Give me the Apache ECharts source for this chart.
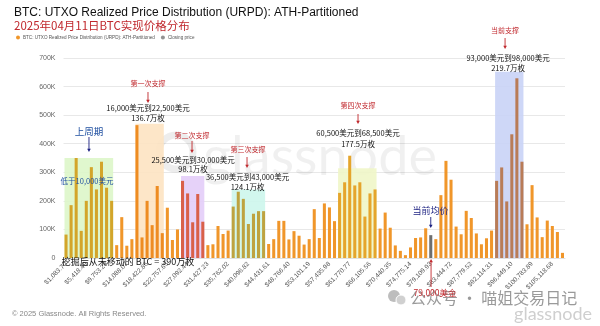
<!DOCTYPE html>
<html><head><meta charset="utf-8">
<script src="https://cdn.jsdelivr.net/npm/echarts@6/dist/echarts.min.js"></script>
<style>html,body{margin:0;padding:0;background:#fff}#c{width:600px;height:326px}</style>
</head><body><div id="c"></div>
<script>
// URPD supply per price bin (BTC), bins 1..99 (bin width ≈ ATH/100)
const urpd = [
  82000,185000,350000,95000,200000,318000,240000,337000,246000,200000,
  45000,143000,43000,66000,465000,72000,200000,115000,252000,87000,
  176000,63000,100000,270000,226000,125000,224000,127000,45000,48000,
  112000,84000,96000,180000,232000,207000,119000,155000,164000,164000,
  49000,66000,130000,130000,65000,94000,78000,47000,66000,171000,
  70000,191000,177000,129000,228000,265000,358000,254000,265000,145000,
  226000,240000,103000,159000,106000,44000,25000,10000,37000,70000,
  72000,104000,80000,66000,220000,340000,274000,110000,83000,165000,
  140000,86000,48000,69000,96000,270000,317000,198000,433000,629000,
  337000,118000,255000,142000,73000,131000,112000,91000,18000
];
const binIndex = urpd.map((_, i) => String(i + 1));
const tickLabels = ['$1,083.70','$5,418.49','$9,753.28','$14,088.07','$18,422.86','$22,757.65','$27,092.44','$31,427.23','$35,762.02','$40,096.82','$44,431.61','$48,766.40','$53,101.19','$57,435.98','$61,770.77','$66,105.56','$70,440.35','$74,775.14','$79,109.93','$83,444.72','$87,779.52','$92,114.31','$96,449.10','$100,783.89','$105,118.68'];
const yTicks = [0,100000,200000,300000,400000,500000,600000,700000];
// highlighted ranges: [first bin, last bin, box top value]
const supportRanges = [[1,10,350000],[15,20,470000],[24,28,287000],[34,40,240000],[55,62,314000],[86,91,652000]];
const closingBin = 73;

const rangeBarColors = ['#D3A52A','#EE8C22','#D9604A','#BEA340','#E5A52C','#B97C57'];
const rangeBoxColors = ['#DDF6C9','#FDE3C2','#E3CDF8','#CDF6EC','#EFF6C8','#C9D3F6'];
const baseColor = '#F0962A', closeColor = '#6E6E6E';
function barColor(k){
  if (k === closingBin) return closeColor;
  for (let i = 0; i < supportRanges.length; i++) if (k >= supportRanges[i][0] && k <= supportRanges[i][1]) return rangeBarColors[i];
  return baseColor;
}
const seriesName = 'BTC: UTXO Realized Price Distribution (URPD): ATH-Partitioned';
const RED = '#C0282D', BLUE = '#1F4FA0', NAVY = '#1A1F80', BLACK = '#111';
const CJK = '"Noto Sans CJK SC", "Noto Sans", sans-serif';

const chart = echarts.init(document.getElementById('c'));
const option = {
  animation: false,
  backgroundColor: '#fff',
  title: {
    text: seriesName, subtext: '2025年04月11日BTC实现价格分布',
    left: 9, top: 2, itemGap: 1,
    textStyle: {fontSize: 12, fontWeight: 'normal', color: '#111', fontFamily: 'Liberation Sans, Arial, sans-serif'},
    subtextStyle: {fontSize: 11.5, color: RED, fontFamily: CJK}
  },
  legend: {
    left: 11, top: 30, itemWidth: 4, itemHeight: 4, itemGap: 6,
    textStyle: {fontSize: 4.6, color: '#555', padding: [0,0,0,-2]},
    data: [{name: seriesName, icon: 'circle', itemStyle: {color: baseColor}},
           {name: 'Closing price', icon: 'circle', itemStyle: {color: '#777'}}]
  },
  grid: {left: 63.5, right: 35, top: 58, bottom: 68},
  xAxis: [{
    type: 'category', data: binIndex,
    axisLine: {show: true, lineStyle: {color: '#e0e0e0'}}, axisTick: {show: false},
    axisLabel: {interval: 3, rotate: 45, fontSize: 6.5, color: '#555', margin: 5,
      formatter: (v, i) => tickLabels[i / 4] || ''}
  }, {
    type: 'value', min: 0.5, max: urpd.length + 0.5, show: false
  }],
  yAxis: {
    type: 'value', min: yTicks[0], max: yTicks[yTicks.length - 1], interval: 100000,
    axisLine: {show: false}, axisTick: {show: false},
    axisLabel: {fontSize: 7, color: '#666', margin: 8, formatter: v => v === 0 ? '0' : (v / 1000) + 'K'},
    splitLine: {lineStyle: {color: '#e8e8e8'}}
  },
  series: [{
    name: seriesName, type: 'bar', barCategoryGap: '40%',
    data: urpd.map((v, i) => ({value: v, itemStyle: {color: barColor(i + 1)}})),
    z: 3
  }, {
    name: 'Closing price', type: 'scatter', data: [], itemStyle: {color: '#777'}
  }, {
    name: 'ranges', type: 'line', xAxisIndex: 1, data: [], silent: true,
    markArea: {
      silent: true,
      data: supportRanges.map((r, i) => [
        {coord: [r[0] - 0.3, r[2]], itemStyle: {color: rangeBoxColors[i], opacity: 0.9}},
        {coord: [r[1] + 0.3, 0]}
      ])
    }
  }]
};
chart.setOption(option);

// annotations in data coordinates: [bin position, value]
const notes = [
  {t: '上周期', p: [5.53, 444500], c: BLUE, s: 9.5},
  {t: '低于10,000美元', p: [5.14, 269500], c: BLUE, s: 7.5},
  {t: '第一次支撑', p: [17.18, 612500], c: RED, s: 7},
  {t: '16,000美元到22,500美元', p: [17.18, 525000], c: BLACK, s: 7.5},
  {t: '136.7万枚', p: [17.18, 490000], c: BLACK, s: 7.5},
  {t: '第二次支撑', p: [25.87, 430500], c: RED, s: 7},
  {t: '25,500美元到30,000美元', p: [26.07, 343000], c: BLACK, s: 7.5},
  {t: '98.1万枚', p: [26.07, 311500], c: BLACK, s: 7.5},
  {t: '第三次支撑', p: [36.93, 381500], c: RED, s: 7},
  {t: '36,500美元到43,000美元', p: [36.83, 283500], c: BLACK, s: 7.5},
  {t: '124.1万枚', p: [36.83, 249500], c: BLACK, s: 7.5},
  {t: '第四次支撑', p: [58.64, 535500], c: RED, s: 7},
  {t: '60,500美元到68,500美元', p: [58.64, 437500], c: BLACK, s: 7.5},
  {t: '177.5万枚', p: [58.64, 399000], c: BLACK, s: 7.5},
  {t: '当前支撑', p: [87.67, 795500], c: RED, s: 7},
  {t: '93,000美元到98,000美元', p: [88.26, 701000], c: BLACK, s: 7.5},
  {t: '219.7万枚', p: [88.26, 666000], c: BLACK, s: 7.5},
  {t: '当前均价', p: [72.96, 165500], c: NAVY, s: 9},
  {t: '79,000美金', p: [73.85, -122500], c: RED, s: 8.5},
  {t: '挖掘后从未移动的 BTC = 390万枚', p: [13.23, -14000], c: BLACK, s: 9}
];
// arrows: [bin, from value, to value]
const arrows = [
  {b: 5.53, v: [423500, 371000], c: NAVY},
  {b: 17.18, v: [581000, 542500], c: RED},
  {b: 25.87, v: [409500, 367500], c: RED},
  {b: 36.73, v: [353500, 315000], c: RED},
  {b: 58.64, v: [504000, 469000], c: RED},
  {b: 87.67, v: [770000, 731500], c: RED},
  {b: 73, v: [143500, 105000], c: NAVY},
  {b: 73.06, v: [-101500, -3500], c: RED}
];
const px = (b, v) => chart.convertToPixel({xAxisIndex: 1, yAxisIndex: 0}, [b, v]);
const graphics = [];
// watermark
graphics.push({type: 'circle', shape: {cx: 176, cy: 152, r: 17}, style: {fill: 'none', stroke: 'rgba(0,0,0,0.07)', lineWidth: 7}, z: 0, silent: true});
graphics.push({type: 'text', x: 320, y: 158, style: {text: 'glassnode', fontSize: 54, fontFamily: 'Lato, sans-serif', fill: 'rgba(0,0,0,0.06)', align: 'center', verticalAlign: 'middle'}, z: 0, silent: true});
notes.forEach(n => {
  const [x, y] = px(n.p[0], n.p[1]);
  graphics.push({type: 'text', x, y, z: 100, style: {text: n.t, fontSize: n.s, fill: n.c, fontFamily: CJK, align: 'center', verticalAlign: 'middle'}});
});
arrows.forEach(a => {
  const [x, y1] = px(a.b, a.v[0]);
  const y2 = px(a.b, a.v[1])[1];
  const dir = y2 > y1 ? 1 : -1;
  graphics.push({type: 'line', z: 100, shape: {x1: x, y1, x2: x, y2: y2 - dir * 2}, style: {stroke: a.c, lineWidth: 0.9}});
  graphics.push({type: 'polygon', z: 100, shape: {points: [[x - 1.8, y2 - dir * 3.2], [x + 1.8, y2 - dir * 3.2], [x, y2]]}, style: {fill: a.c}});
});
graphics.push({type: 'text', left: 12, top: 310, style: {text: '© 2025 Glassnode. All Rights Reserved.', fontSize: 7.5, fill: '#888', fontFamily: 'Liberation Sans, Arial, sans-serif'}});
// wechat watermark
graphics.push({type: 'circle', shape: {cx: 394, cy: 296, r: 6}, style: {fill: '#bdbdbd'}, z: 90});
graphics.push({type: 'circle', shape: {cx: 401, cy: 300, r: 5}, style: {fill: '#d0d0d0', stroke: '#fff', lineWidth: 1}, z: 91});
graphics.push({type: 'text', x: 410, y: 298, z: 90, style: {text: '公众号 · 喵姐交易日记', fontSize: 16, fill: '#9a9a9a', fontFamily: CJK, verticalAlign: 'middle'}});
graphics.push({type: 'text', x: 592, y: 314, z: 90, style: {text: 'glassnode', fontSize: 18, fill: '#cfcfcf', fontFamily: 'Lato, sans-serif', align: 'right', verticalAlign: 'middle'}});
chart.setOption({graphic: graphics});
</script></body></html>
